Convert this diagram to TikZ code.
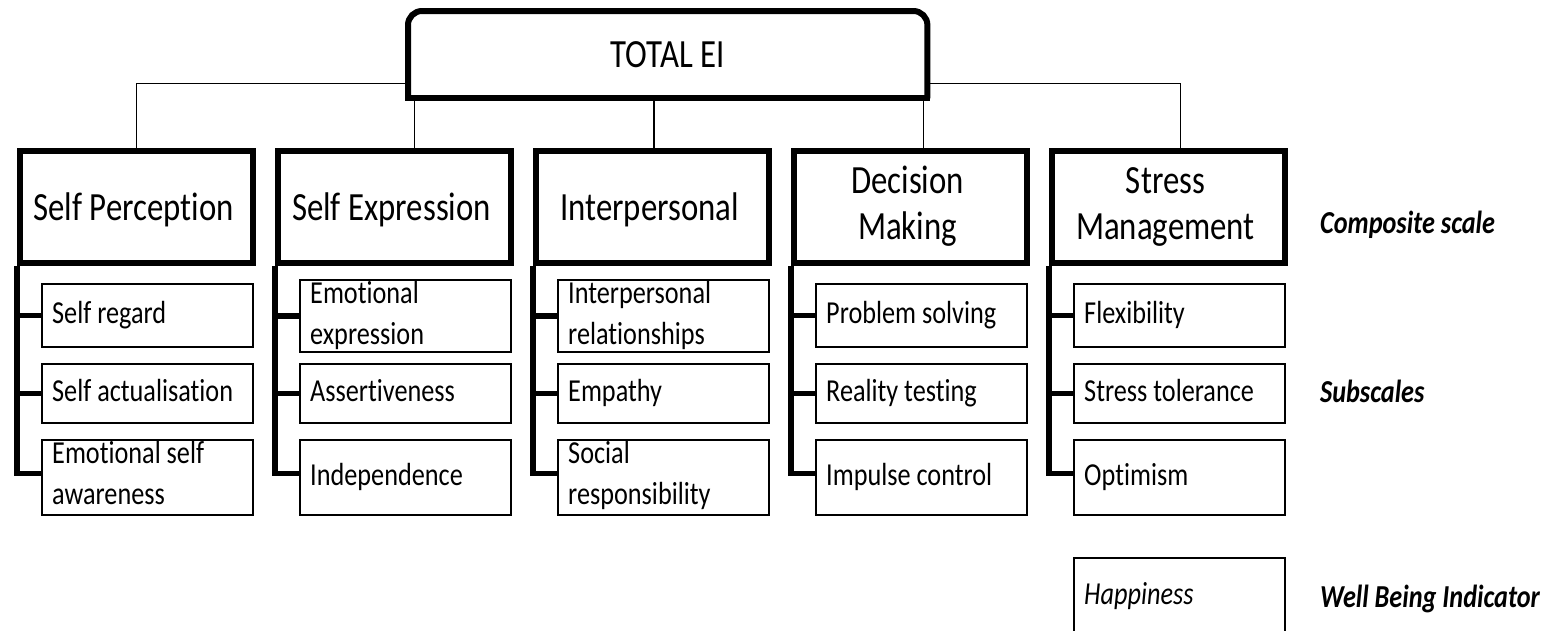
\documentclass[tikz,border=0pt]{standalone}
\usepackage{fontspec}
\setmainfont{Carlito}[FakeStretch=0.82, Ligatures=CommonOff]
\newcommand\subsize{\fontsize{32}{41}\selectfont}
\newcommand\catsize{\fontsize{40}{46}\selectfont}
\begin{document}
\begin{tikzpicture}[x=1pt,y=-1pt,
  catbox/.style={draw, line width=6pt, minimum width=233pt, minimum height=112pt, inner sep=0pt, anchor=north west},
  subbox/.style={draw, line width=1.8pt, minimum width=211pt, inner sep=0pt, anchor=north west},
  subtext/.style={anchor=base west, inner sep=0pt, align=left, font=\subsize},
  cattext/.style={anchor=base, inner sep=0pt, align=center, font=\catsize},
  sidetext/.style={anchor=base west, inner sep=0pt, font=\subsize\bfseries\itshape},
  conn/.style={line width=1.4pt},
  bracket/.style={line width=5.5pt},
  thickline/.style={line width=6pt}]
\useasboundingbox (0,0) rectangle (1553,630);

% top box
\node[minimum width=519pt, minimum height=87pt, inner sep=0pt, anchor=north west, font=\catsize] (total) at (408,11) {TOTAL EI};

% composite scales
\node[catbox] (sp) at (17,148) {};
\node[catbox] (se) at (275,148) {};
\node[catbox] (ip) at (533,148) {};
\node[catbox] (dm) at (791,148) {};
\node[catbox] (sm) at (1049,148) {};
\node[cattext] (spt) at (133.5,220) {Self Perception};
\node[cattext] (set) at (391.5,220) {Self Expression};
\node[cattext] (ipt) at (649.5,220) {Interpersonal};
\node[cattext] (dmt) at (907.5,239) {Decision\\Making};
\node[cattext] (smt) at (1165.5,239) {Stress\\Management};

% subscale boxes
\node[subbox, minimum height=63pt] (sp1) at (41,283) {};
\node[subbox, minimum height=59pt] (sp2) at (41,363) {};
\node[subbox, minimum height=75pt] (sp3) at (41,439) {};
\node[subbox, minimum height=72pt] (se1) at (299,279) {};
\node[subbox, minimum height=59pt] (se2) at (299,363) {};
\node[subbox, minimum height=75pt] (se3) at (299,439) {};
\node[subbox, minimum height=72pt] (ip1) at (557,279) {};
\node[subbox, minimum height=59pt] (ip2) at (557,363) {};
\node[subbox, minimum height=75pt] (ip3) at (557,439) {};
\node[subbox, minimum height=63pt] (dm1) at (815,283) {};
\node[subbox, minimum height=59pt] (dm2) at (815,363) {};
\node[subbox, minimum height=75pt] (dm3) at (815,439) {};
\node[subbox, minimum height=63pt] (sm1) at (1073,283) {};
\node[subbox, minimum height=59pt] (sm2) at (1073,363) {};
\node[subbox, minimum height=75pt] (sm3) at (1073,439) {};
\node[subbox, minimum height=120pt] (hap) at (1073,557) {};

% subscale texts (two-line texts sit on the baseline of their last line)
\node[subtext] (sp1t) at (52,323) {Self regard};
\node[subtext] (sp2t) at (52,401) {Self actualisation};
\node[subtext] (sp3t) at (52,504) {Emotional self\\awareness};
\node[subtext] (se1t) at (310,344) {Emotional\\expression};
\node[subtext] (se2t) at (310,401) {Assertiveness};
\node[subtext] (se3t) at (310,485) {Independence};
\node[subtext] (ip1t) at (568,344) {Interpersonal\\relationships};
\node[subtext] (ip2t) at (568,401) {Empathy};
\node[subtext] (ip3t) at (568,504) {Social\\responsibility};
\node[subtext] (dm1t) at (826,323) {Problem solving};
\node[subtext] (dm2t) at (826,401) {Reality testing};
\node[subtext] (dm3t) at (826,485) {Impulse control};
\node[subtext] (sm1t) at (1084,323) {Flexibility};
\node[subtext] (sm2t) at (1084,401) {Stress tolerance};
\node[subtext] (sm3t) at (1084,485) {Optimism};
\node[subtext, font=\subsize\itshape] (hapt) at (1084,604) {Happiness};

% scale labels
\node[sidetext] (lcomp) at (1320,233) {Composite scale};
\node[sidetext] (lsub) at (1320,402) {Subscales};
\node[sidetext] (lwell) at (1320,607) {Well Being Indicator};

% outline of the top box: rounded top, square bottom
\draw[thickline, rounded corners=14pt] (total.south west) -- (total.north west) -- (total.north east) -- (total.south east);
\draw[thickline, line cap=rect] (total.south west) -- (total.south east);

% connectors from the top box
\draw[conn] ([yshift=15pt]total.south west) -| (sp.north);
\draw[conn] ([yshift=15pt]total.south east) -| ([xshift=12pt]sm.north);
\draw[conn] ([xshift=20pt]se.north) -- ([xshift=20pt]se.north |- total.south);
\draw[conn] ([xshift=1.5pt]ip.north) -- ([xshift=1.5pt]ip.north |- total.south);
\draw[conn] ([xshift=13pt]dm.north) -- ([xshift=13pt]dm.north |- total.south);

% brackets to the subscales
\foreach \c in {sp,se,ip,dm,sm}{
  \draw[bracket] (\c.south west) |- ([yshift=4pt]\c3.west);
  \draw[bracket] (\c.south west |- \c1.west) -- (\c1.west);
  \draw[bracket] (\c.south west |- \c2.west) -- (\c2.west);
}
\end{tikzpicture}
\end{document}
